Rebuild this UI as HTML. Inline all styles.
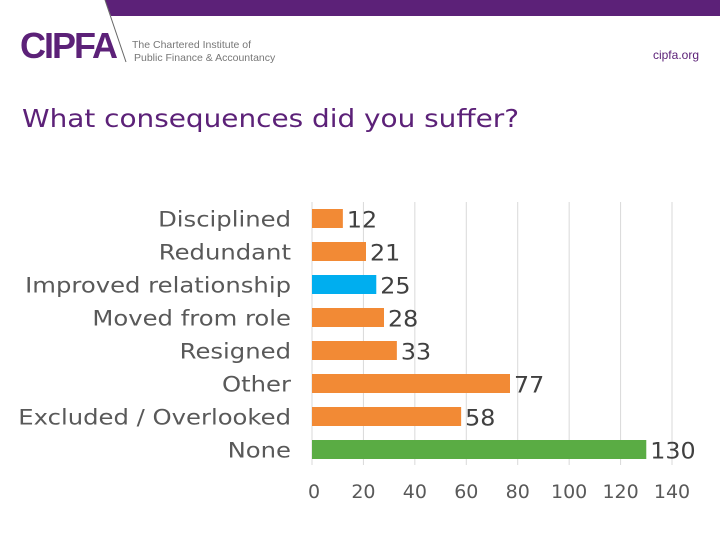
<!DOCTYPE html>
<html><head><meta charset="utf-8"><style>
body{margin:0;width:720px;height:540px;background:#fff;overflow:hidden;position:relative;font-family:"DejaVu Sans","Liberation Sans",sans-serif}
.abs{position:absolute}
</style></head><body>
<svg class="abs" style="left:0;top:0" width="720" height="540">
<polygon points="105,0 720,0 720,16 111,16" fill="#5c2178"/>
<line x1="105" y1="0" x2="126" y2="62" stroke="#666" stroke-width="1"/>
<text x="20" y="58" font-family="Liberation Sans" font-weight="bold" font-size="36" fill="#5c2178" letter-spacing="-2">CIPFA</text>
<text x="132" y="48" font-family="Liberation Sans" font-size="10.5" fill="#777">The Chartered Institute of</text>
<text x="134" y="61" font-family="Liberation Sans" font-size="10.5" fill="#777">Public Finance &amp; Accountancy</text>
<text x="699" y="59" text-anchor="end" font-family="Liberation Sans" font-size="12" fill="#5c2178">cipfa.org</text>
<text x="22" y="127" font-size="25" fill="#5c2178" textLength="497" lengthAdjust="spacingAndGlyphs">What consequences did you suffer?</text>
<g id="plot"></g>
</svg>
<script>
const categories=["Disciplined","Redundant","Improved relationship","Moved from role","Resigned","Other","Excluded / Overlooked","None"];
const values=[12,21,25,28,33,77,58,130];
const barColors=["#f28a35","#f28a35","#00aeef","#f28a35","#f28a35","#f28a35","#f28a35","#5aac44"];
const ticks=[0,20,40,60,80,100,120,140];
const NS="http://www.w3.org/2000/svg";
const g=document.getElementById('plot');
const x0=312,xMax=140,plotW=360;
const xs=v=>x0+v/xMax*plotW;
const ys=i=>218.5+i*33;
function mk(t,a,txt){const e=document.createElementNS(NS,t);for(const k in a)e.setAttribute(k,a[k]);if(txt!=null)e.textContent=txt;g.appendChild(e);return e;}
function widen(e,f){const w=e.getComputedTextLength();e.setAttribute('textLength',w*f);e.setAttribute('lengthAdjust','spacingAndGlyphs');}
ticks.forEach(t=>{
 const l=mk('line',{x1:xs(t),x2:xs(t),y1:202,y2:465,stroke:'#d9d9d9','stroke-width':1});
 
 
 const tx=mk('text',{x:xs(t)+(t===0?2:0),y:498,'text-anchor':'middle','font-size':19,fill:'#595959'},String(t));
 
 
});
categories.forEach((c,i)=>{
 const y=ys(i);
 const lab=mk('text',{x:291,y:y+8,'text-anchor':'end','font-size':21.5,fill:'#595959'},c);
 
 
 widen(lab,1.13);
 const r=mk('rect',{x:x0,y:y-9.5,width:xs(values[i])-x0,height:19,fill:barColors[i]});
 
 
 const v=mk('text',{x:xs(values[i])+4,y:y+9,'font-size':22,fill:'#404040'},String(values[i]));
 
 
 widen(v,1.08);
});
</script>
</body></html>
